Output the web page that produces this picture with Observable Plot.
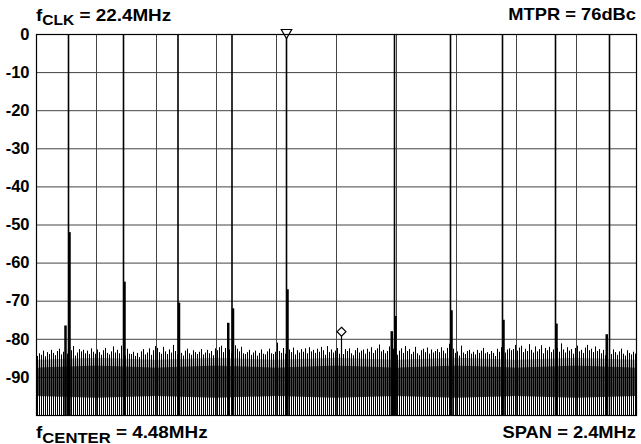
<!DOCTYPE html>
<html>
<head>
<meta charset="utf-8">
<script src="https://cdn.jsdelivr.net/npm/d3@7"></script>
<script src="https://cdn.jsdelivr.net/npm/@observablehq/plot@0.6"></script>
<style>
  html, body { margin: 0; padding: 0; background: #fff; }
  #chart { width: 641px; height: 444px; }
</style>
</head>
<body>
<div id="chart"></div>
<script>
// ---- Data ----
// Frequency axis: centre 4.48 MHz, span 2.4 MHz
const fCenter = 4.48;
const span = 2.4;
const xGrid = [3.52, 3.76, 4.00, 4.24, 4.48, 4.72, 4.96, 5.20, 5.44];
const yTicks = [0, -10, -20, -30, -40, -50, -60, -70, -80, -90];

// Multitone carriers (MHz), all at 0 dBc
const toneFreq = [3.408, 3.628, 3.846, 4.062, 4.280, 4.712, 4.936, 5.144, 5.356, 5.572];
const toneDb = [0, 0, 0, 0, 0, 0, 0, 0, 0, 0];

// Close-in spurs beside the carriers
const spurFreq = [3.396, 3.412, 3.632, 3.850, 4.047, 4.066, 4.284, 4.701, 4.716, 4.940, 5.148, 5.360, 5.561];
const spurDb = [-76.5, -52, -65, -70.5, -75.8, -72, -67, -78, -74, -72.5, -75, -76, -78.8];

// Marker in the empty (notched) tone slot
const markerFreq = 4.500;
const markerDb = -78;

// Noise floor: peak level of each analyser bin (bins 0.008 MHz apart)
const noiseStart = 3.284;
const noiseStep = 0.008;
const noiseDb = [
  -84.5,-83.8,-84.2,-83.1,-84.6,-83.5,-84.0,-82.9,-83.7,-84.3,-83.2,-82.6,-84.1,-83.4,-82.8,-83.9,-82.2,-83.0,-81.9,-84.4,
  -83.6,-82.7,-83.3,-82.9,-83.8,-83.1,-84.0,-82.5,-83.4,-83.9,-82.8,-83.5,-84.2,-83.0,-82.4,-83.7,-84.1,-83.3,-82.0,-83.6,
  -82.9,-83.8,-81.8,-83.2,-84.3,-82.6,-83.9,-84.0,-83.4,-84.5,-83.7,-84.8,-83.3,-82.7,-84.1,-83.6,-82.5,-84.2,-83.0,-81.9,
  -82.4,-83.5,-83.9,-82.1,-83.3,-84.0,-82.8,-83.6,-81.6,-83.2,-84.1,-82.5,-83.7,-84.4,-83.1,-82.6,-83.8,-84.2,-83.0,-83.5,
  -84.0,-83.4,-82.7,-84.1,-83.6,-82.9,-83.8,-83.2,-84.3,-82.5,-83.0,-82.2,-81.8,-83.5,-82.4,-81.4,-82.8,-83.7,-82.0,-81.7,
  -82.6,-83.3,-82.1,-83.8,-84.0,-83.5,-82.9,-84.2,-83.6,-83.1,-84.4,-83.7,-82.8,-83.9,-84.1,-83.3,-82.6,-83.8,-84.0,-83.4,
  -81.0,-83.2,-83.7,-82.4,-83.9,-84.0,-82.8,-83.5,-82.3,-84.1,-83.0,-83.6,-82.7,-83.4,-82.5,-83.8,-82.2,-83.3,-82.9,-83.7,
  -82.6,-83.4,-82.1,-83.0,-84.2,-81.9,-83.5,-82.8,-83.6,-83.1,-82.4,-83.9,-83.3,-84.0,-82.7,-83.2,-82.5,-83.8,-84.3,-83.0,
  -82.4,-83.6,-83.1,-82.8,-83.9,-82.6,-83.4,-82.2,-83.7,-83.0,-82.5,-81.5,-83.3,-82.9,-83.8,-83.2,-82.0,-80.8,-82.6,-83.5,
  -84.2,-83.1,-82.5,-83.7,-81.9,-83.2,-82.7,-84.0,-83.4,-82.1,-83.8,-84.3,-83.0,-82.6,-83.5,-82.3,-83.9,-82.8,-83.6,-83.2,
  -82.7,-83.5,-82.2,-83.1,-83.8,-82.4,-81.3,-83.0,-82.6,-83.7,-83.3,-84.4,-81.8,-83.6,-84.0,-83.2,-82.9,-83.9,-83.4,-84.1,
  -82.9,-83.7,-83.1,-82.4,-83.8,-83.5,-84.0,-83.2,-83.7,-84.5,-82.6,-83.4,-82.2,-81.9,-83.6,-82.8,-82.5,-83.0,-82.7,-81.6,
  -83.1,-82.3,-81.8,-83.5,-82.6,-83.2,-81.4,-82.9,-83.6,-82.0,-83.3,-82.7,-81.7,-83.8,-82.4,-83.0,-82.1,-83.5,-82.8,-81.9,
  -82.5,-83.4,-81.2,-82.8,-83.6,-82.2,-83.1,-82.7,-83.9,-82.4,-81.8,-83.3,-82.9,-83.7,-82.3,-81.6,-83.0,-82.6,-83.5,-82.0,
  -83.2,-82.7,-83.8,-82.9,-84.3,-83.1,-83.6,-84.0,-82.8,-83.5,-84.2,-83.3,-82.6,-83.9,-84.4,-83.0,-83.7,-84.1,-83.4,-83.9
];

// Shaded (denser) part of the noise trace: light upper band and dark core
const bandFreq = [3.28, 3.52, 3.76, 4.00, 4.24, 4.48, 4.72, 4.96, 5.20, 5.44, 5.68];
const bandTop = [-85.5, -85, -85.5, -85, -85.5, -85, -85.5, -85, -85.5, -85, -85.5];
const bandHi = [-87.5, -87, -87.5, -87, -87.5, -87, -87.5, -87, -87.5, -87, -87.5];
const bandLo = [-95, -95.5, -95, -95.5, -95, -95.5, -95, -95.5, -95, -95.5, -95];

// ---- Tables for Plot ----
const tones = toneFreq.map((f, i) => ({f, db: toneDb[i]}));
const spurs = spurFreq.map((f, i) => ({f, db: spurDb[i]}));
const noise = noiseDb.map((db, i) => ({f: noiseStart + i * noiseStep, db}));
const band = bandFreq.map((f, i) => ({f, top: bandTop[i], hi: bandHi[i], lo: bandLo[i]}));
const floorDb = -100;

const svg = Plot.plot({
  width: 641,
  height: 444,
  marginTop: 34,
  marginBottom: 29,
  marginLeft: 36,
  marginRight: 5,
  style: {fontFamily: "'Liberation Sans', Arial, sans-serif", background: "#fff", color: "#000"},
  x: {domain: [fCenter - span / 2, fCenter + span / 2], axis: null},
  y: {domain: [floorDb, 0], axis: null},
  marks: [
    Plot.ruleX(xGrid, {stroke: "#444", strokeWidth: 1}),
    Plot.ruleY(yTicks, {stroke: "#444", strokeWidth: 1}),
    Plot.ruleX(noise, {x: "f", y1: floorDb, y2: "db", stroke: "#000", strokeWidth: 1}),
    Plot.areaY(band, {x: "f", y1: "hi", y2: "top", fill: "#000", fillOpacity: 0.3}),
    Plot.areaY(band, {x: "f", y1: "lo", y2: "hi", fill: "#000", fillOpacity: 0.72}),
    Plot.ruleX(spurs, {x: "f", y1: floorDb, y2: "db", stroke: "#000", strokeWidth: 2.5}),
    Plot.ruleX(tones, {x: "f", y1: floorDb, y2: "db", stroke: "#000", strokeWidth: 1.6}),
    Plot.ruleX([{f: markerFreq, db: markerDb}], {x: "f", y1: floorDb, y2: "db", stroke: "#000", strokeWidth: 1.2}),
    Plot.dot([{f: markerFreq, db: markerDb}], {x: "f", y: "db", symbol: "diamond2", r: 4, fill: "#fff", stroke: "#000", strokeWidth: 1.2}),
    Plot.dot([tones[4]], {x: "f", y: "db", symbol: "triangle2", rotate: 180, r: 5, dy: -2, fill: "#fff", stroke: "#000", strokeWidth: 1.2}),
    Plot.frame({stroke: "#000", strokeWidth: 1.2}),
    Plot.axisY(yTicks, {tickSize: 0, tickPadding: 7, fontSize: 16.5, fontWeight: "bold", fill: "#000", tickFormat: d => String(d), label: null})
  ]
});

document.getElementById("chart").appendChild(svg);

// Annotations with subscripts
const s = d3.select(svg);
function addLabel(x, y, anchor, parts) {
  const g = s.append("g").attr("transform", `translate(${x},${y}) scale(1.11,1)`);
  const t = g.append("text")
    .attr("text-anchor", anchor)
    .attr("font-family", "'Liberation Sans', Arial, sans-serif")
    .attr("font-weight", "bold")
    .attr("fill", "#000");
  parts.forEach(p => {
    t.append("tspan").attr("font-size", p.size).attr("dy", p.dy || 0).text(p.text);
  });
}
addLabel(36, 21, "start", [
  {text: "f", size: 17},
  {text: "CLK", size: 14, dy: 4},
  {text: " = 22.4MHz", size: 17, dy: -4}
]);
addLabel(636, 19.5, "end", [{text: "MTPR = 76dBc", size: 16.5}]);
addLabel(36, 438, "start", [
  {text: "f", size: 17},
  {text: "CENTER", size: 15, dy: 4.5},
  {text: " = 4.48MHz", size: 17, dy: -4.5}
]);
addLabel(636, 438, "end", [{text: "SPAN = 2.4MHz", size: 16.5}]);
</script>
</body>
</html>
